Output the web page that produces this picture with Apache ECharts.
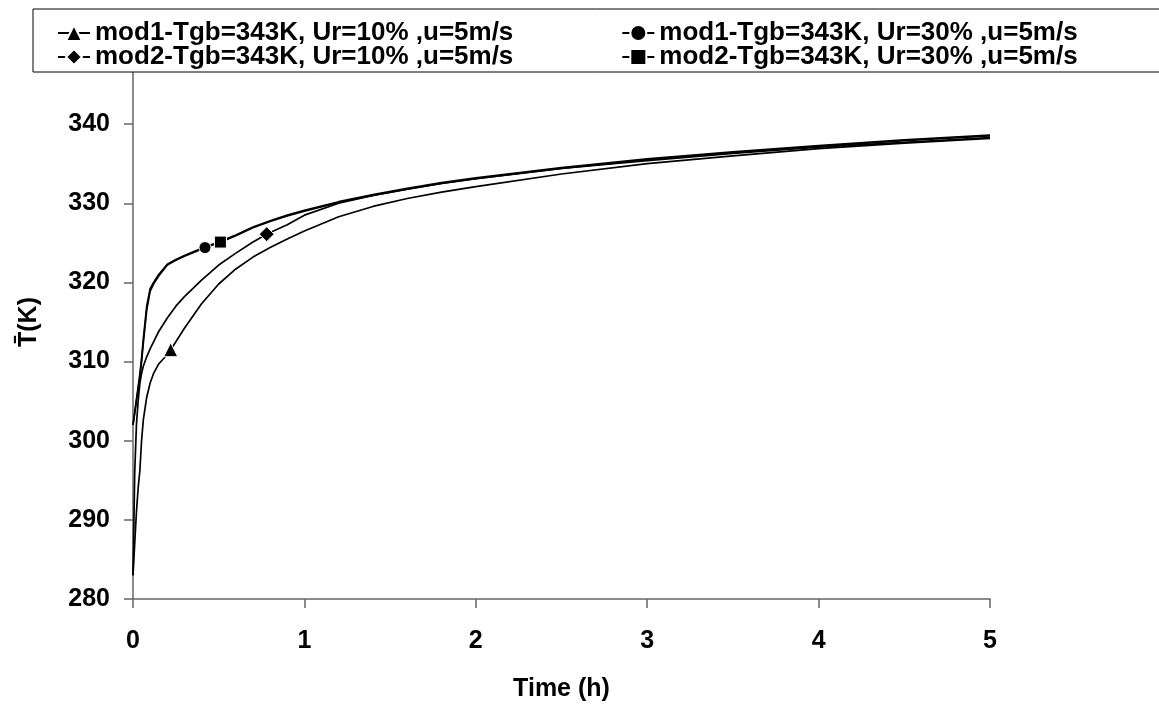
<!DOCTYPE html>
<html>
<head>
<meta charset="utf-8">
<script src="https://cdn.jsdelivr.net/npm/echarts@6/dist/echarts.min.js"></script>
<style>
html,body{margin:0;padding:0;background:#fff;}
#chart{width:1159px;height:713px;}
</style>
</head>
<body>
<div id="chart"></div>
<script>
// ---- data ----
const timeH = [0, 0.01, 0.02, 0.03, 0.04, 0.05, 0.06, 0.08, 0.1, 0.12, 0.15, 0.2, 0.25, 0.3, 0.4, 0.5, 0.6, 0.7, 0.8, 0.9, 1.0, 1.2, 1.4, 1.6, 1.8, 2.0, 2.5, 3.0, 3.5, 4.0, 4.5, 5.0];
const mod1Ur10 = [283, 287, 291, 294, 296.2, 300, 302.6, 305.5, 307.3, 308.5, 309.7, 310.9, 312.5, 314.2, 317.3, 319.8, 321.7, 323.2, 324.4, 325.5, 326.5, 328.3, 329.6, 330.6, 331.4, 332.1, 333.7, 335.0, 336.0, 336.9, 337.6, 338.2];
const mod1Ur30 = [302, 303.5, 305, 306.5, 308, 310, 312.3, 316.5, 318.9, 319.8, 320.8, 322.2, 322.8, 323.3, 324.2, 325, 325.9, 326.9, 327.7, 328.4, 329.0, 330.1, 331.0, 331.8, 332.5, 333.1, 334.4, 335.5, 336.4, 337.2, 337.9, 338.5];
const mod2Ur10 = [283, 296, 302, 305, 307.2, 308.5, 309.4, 310.6, 311.6, 312.5, 313.8, 315.5, 317, 318.2, 320.3, 322.2, 323.7, 325.1, 326.3, 327.3, 328.5, 330.0, 331.0, 331.8, 332.5, 333.1, 334.4, 335.4, 336.3, 337.1, 337.7, 338.3];
const mod2Ur30 = [302, 303.6, 305.2, 306.8, 308.4, 310.4, 312.8, 317, 319.2, 320, 321, 322.3, 322.9, 323.4, 324.3, 325.1, 326, 327, 327.8, 328.5, 329.1, 330.2, 331.1, 331.9, 332.6, 333.2, 334.5, 335.6, 336.5, 337.3, 338.0, 338.6];
const seriesNames = ['mod1-Tgb=343K, Ur=10% ,u=5m/s', 'mod1-Tgb=343K, Ur=30% ,u=5m/s', 'mod2-Tgb=343K, Ur=10% ,u=5m/s', 'mod2-Tgb=343K, Ur=30% ,u=5m/s'];
const markerTimes = [0.22, 0.42, 0.78, 0.51];
const markerValues = [311.5, 324.4, 326.1, 325.1];
const xTicks = [0, 1, 2, 3, 4, 5];
const yTicks = [280, 290, 300, 310, 320, 330, 340, 350];

const seriesValues = [mod1Ur10, mod1Ur30, mod2Ur10, mod2Ur30];
const symbols = ['triangle', 'circle', 'diamond', 'rect'];
const symbolSizes = [14, 12, 15, 12];

const FONT = '"Liberation Sans", Arial, sans-serif';
const FS = 25;
const LEGEND_FS = 26;

function buildData(vals, k) {
  const pts = timeH.map((t, i) => ({ value: [t, vals[i]], symbol: 'none' }));
  pts.push({ value: [markerTimes[k], markerValues[k]] });
  pts.sort((a, b) => a.value[0] - b.value[0]);
  return pts;
}

const series = seriesValues.map((vals, k) => ({
  name: seriesNames[k],
  type: 'line',
  data: buildData(vals, k),
  symbol: symbols[k],
  symbolSize: symbolSizes[k],
  showSymbol: true,
  smooth: false,
  lineStyle: { color: '#000', width: 1.7 },
  itemStyle: { color: '#000', borderColor: '#fff', borderWidth: 1 },
  emphasis: { disabled: true },
  z: 2
}));

const legendCommon = {
  left: 57,
  itemGap: 108,
  itemWidth: 32,
  itemHeight: 20,
  textStyle: { color: '#000', fontSize: LEGEND_FS, fontWeight: 'bold', fontFamily: FONT },
  padding: 0,
  z: 5,
  selectedMode: false
};

const chart = echarts.init(document.getElementById('chart'), null, { renderer: 'canvas' });
chart.setOption({
  animation: false,
  backgroundColor: '#fff',
  graphic: [{
    type: 'rect',
    shape: { x: 33, y: 9, width: 1140, height: 63 },
    style: { fill: '#fff', stroke: '#000', lineWidth: 1 },
    z: 4,
    silent: true
  }],
  legend: [
    Object.assign({}, legendCommon, { top: 20, data: [seriesNames[0], seriesNames[1]] }),
    Object.assign({}, legendCommon, { top: 44, data: [seriesNames[2], seriesNames[3]] })
  ],
  grid: { left: 133, right: 169, top: 45, bottom: 114, containLabel: false },
  xAxis: {
    type: 'value',
    min: xTicks[0],
    max: xTicks[xTicks.length - 1],
    interval: 1,
    name: 'Time (h)',
    nameLocation: 'middle',
    nameGap: 78,
    nameTextStyle: { color: '#000', fontSize: FS, fontWeight: 'bold', fontFamily: FONT },
    axisLine: { lineStyle: { color: '#666', width: 1.5 } },
    axisTick: { show: true, inside: false, length: 9, lineStyle: { color: '#666', width: 1.5 } },
    axisLabel: { color: '#000', fontSize: FS, fontWeight: 'bold', fontFamily: FONT, margin: 30 },
    splitLine: { show: false }
  },
  yAxis: {
    type: 'value',
    min: yTicks[0],
    max: yTicks[yTicks.length - 1],
    interval: 10,
    name: 'T\u0304(K)',
    nameLocation: 'middle',
    nameGap: 91,
    nameRotate: 90,
    nameTextStyle: { color: '#000', fontSize: FS, fontWeight: 'bold', fontFamily: FONT },
    axisLine: { show: true, lineStyle: { color: '#666', width: 1.5 } },
    axisTick: { show: true, inside: false, length: 9, lineStyle: { color: '#666', width: 1.5 } },
    axisLabel: { color: '#000', fontSize: FS, fontWeight: 'bold', fontFamily: FONT, margin: 23, showMaxLabel: false },
    splitLine: { show: false }
  },
  series: series
});
</script>
</body>
</html>
